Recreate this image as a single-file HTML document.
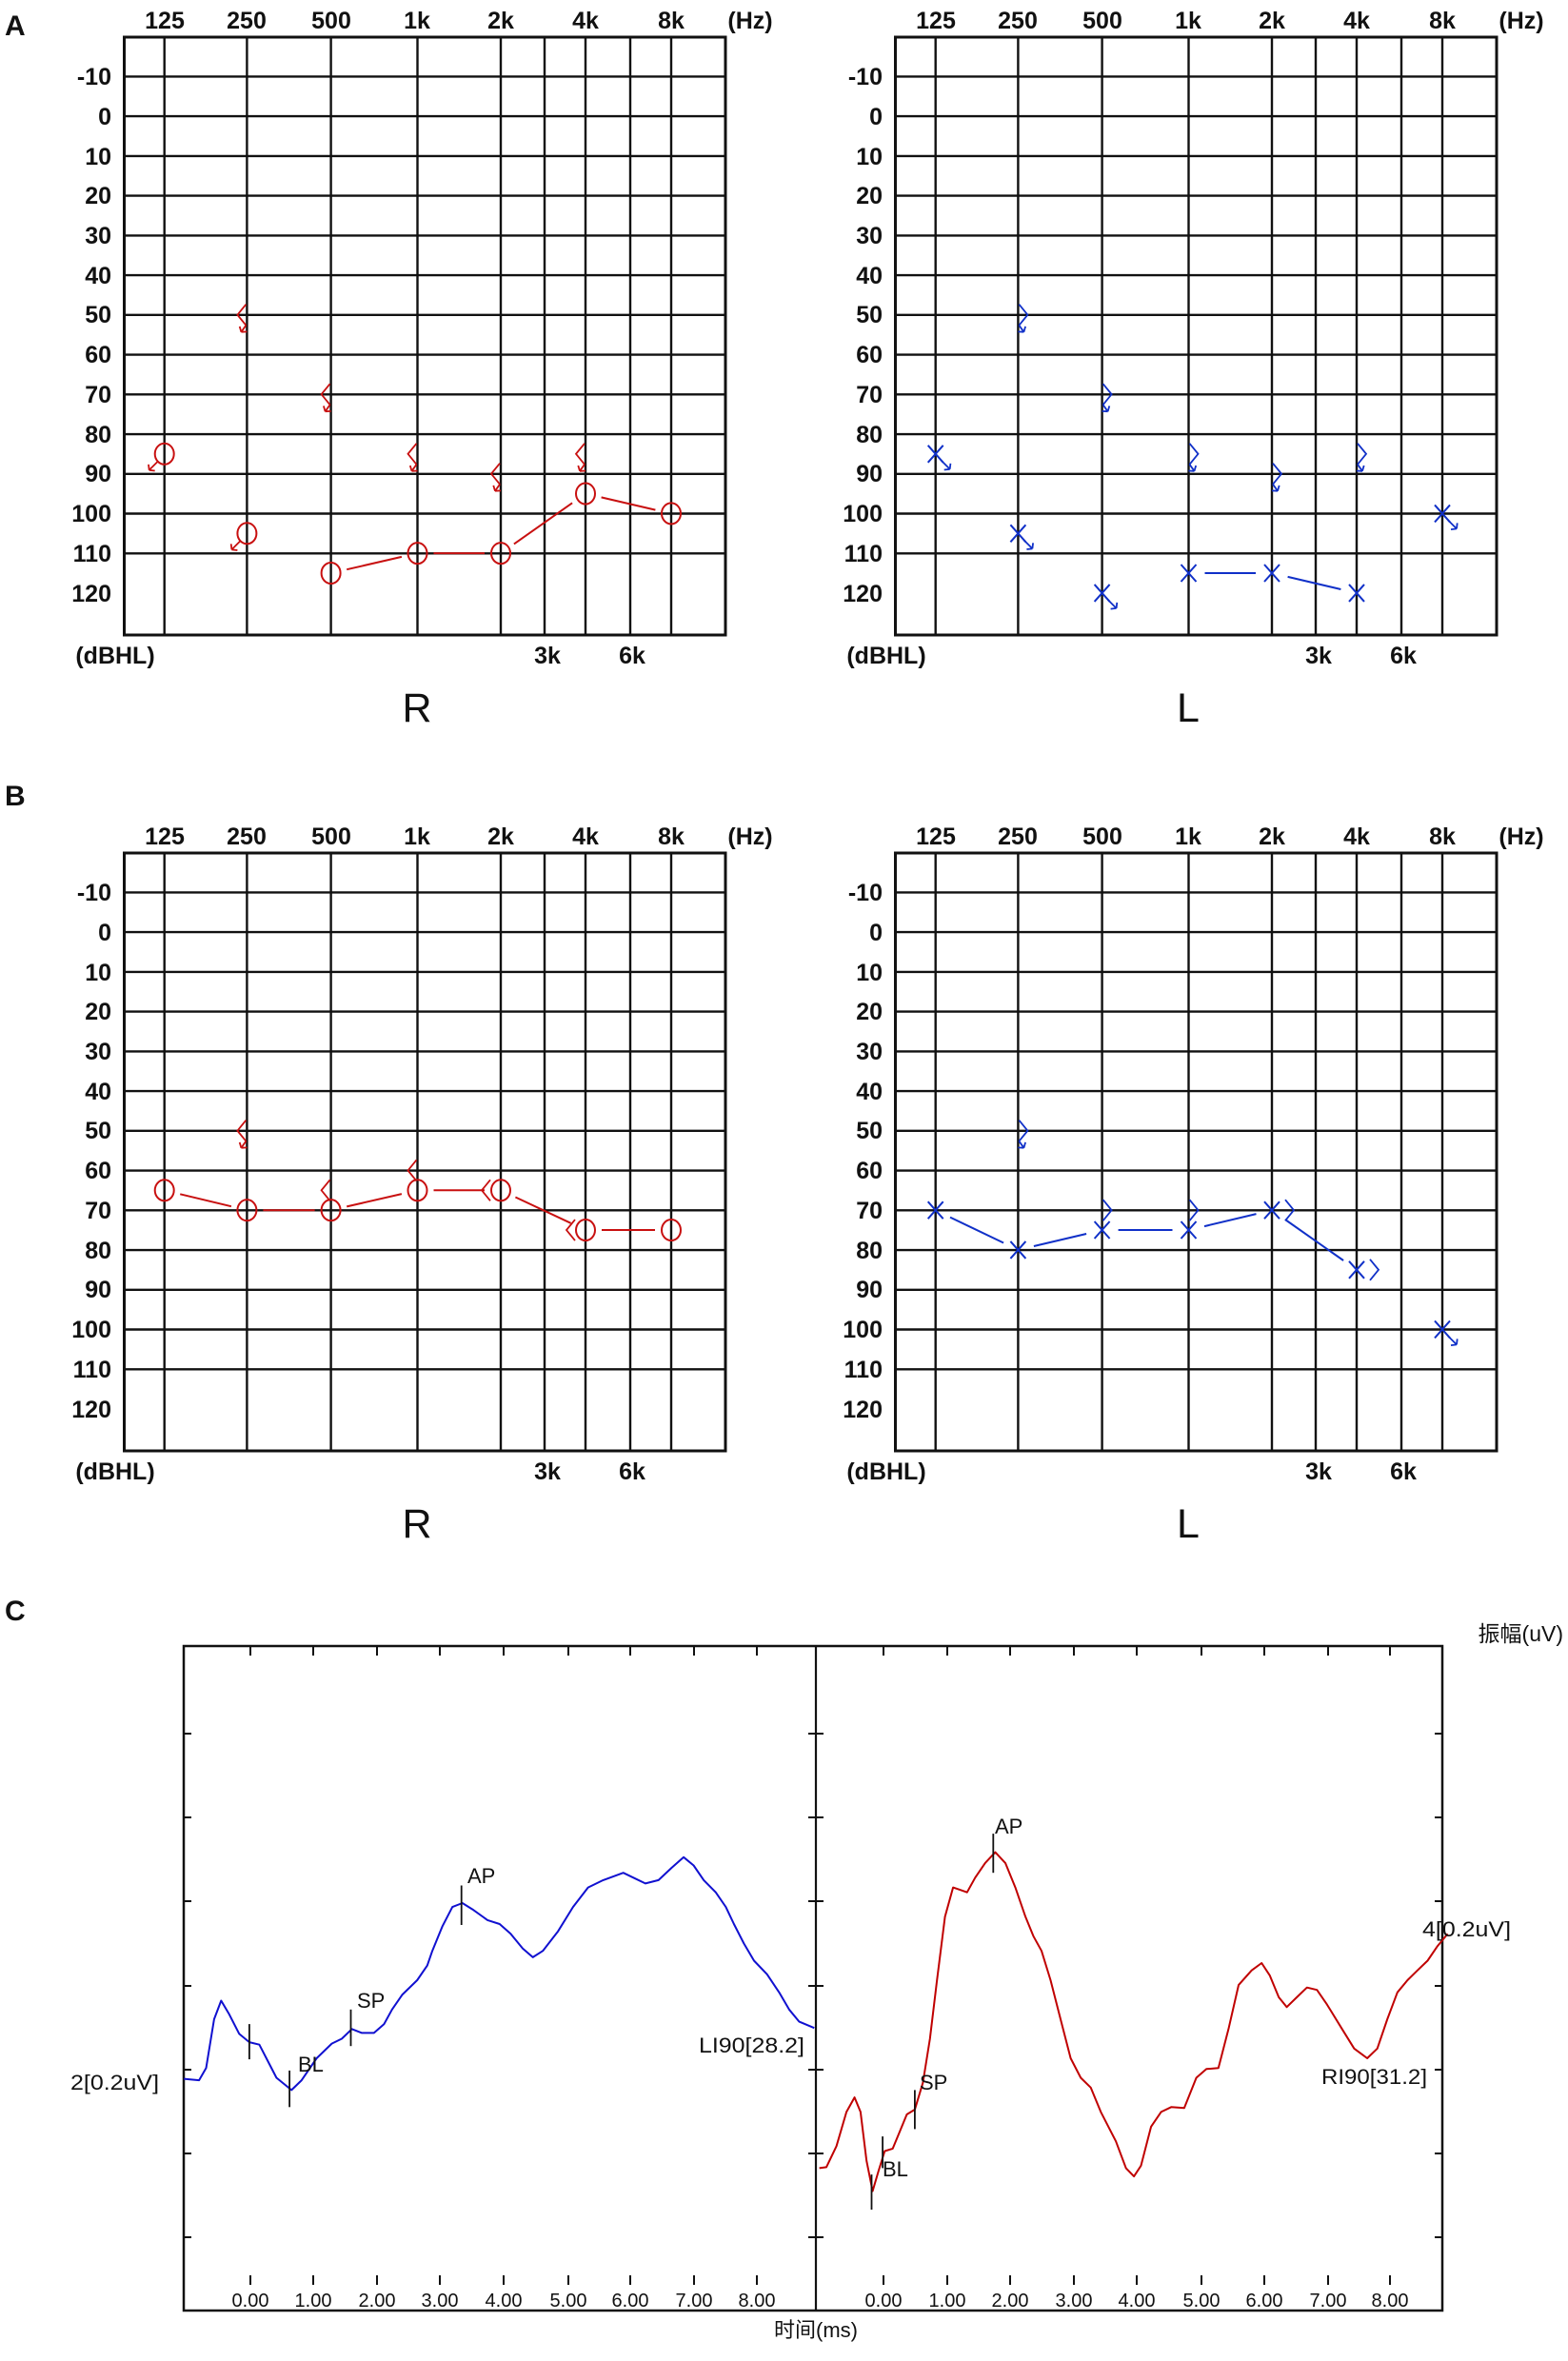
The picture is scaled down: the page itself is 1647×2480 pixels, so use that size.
<!DOCTYPE html>
<html><head><meta charset="utf-8"><style>
html,body{margin:0;padding:0;background:#fff;}
svg{display:block;}
.f{font-family:"Liberation Sans","Noto Sans CJK SC",sans-serif;font-weight:bold;font-size:25px;fill:#111;}
.n{font-family:"Liberation Sans Narrow","Liberation Sans","Noto Sans CJK SC",sans-serif;font-size:22px;fill:#111;}
</style></head><body>
<svg id="s" width="1647" height="2480" viewBox="0 0 1647 2480" xmlns="http://www.w3.org/2000/svg">
<rect width="1647" height="2480" fill="#fff"/>
<g id="dyn"></g>
<!-- panel labels -->
<text class="f" x="5" y="37" style="font-size:30px">A</text>
<text class="f" x="5" y="846" style="font-size:30px">B</text>
<text class="f" x="5" y="1702" style="font-size:30px">C</text>

<!-- A-R text -->
<g class="f" text-anchor="middle">
<text x="173" y="30">125</text><text x="259" y="30">250</text><text x="348" y="30">500</text><text x="438" y="30">1k</text><text x="526" y="30">2k</text><text x="615" y="30">4k</text><text x="705" y="30">8k</text>
<text x="788" y="30">(Hz)</text>
<text x="575" y="697">3k</text><text x="664" y="697">6k</text>
<text x="121" y="697">(dBHL)</text>
</g>
<g class="f" text-anchor="end">
<text x="117" y="89">-10</text><text x="117" y="131">0</text><text x="117" y="173">10</text><text x="117" y="214">20</text><text x="117" y="256">30</text><text x="117" y="298">40</text><text x="117" y="339">50</text><text x="117" y="381">60</text><text x="117" y="423">70</text><text x="117" y="465">80</text><text x="117" y="506">90</text><text x="117" y="548">100</text><text x="117" y="590">110</text><text x="117" y="632">120</text>
</g>
<text x="438" y="758" text-anchor="middle" style="font-family:'Liberation Sans',sans-serif;font-size:43px;fill:#111">R</text>

<!-- A-L text -->
<g transform="translate(810,0)">
<g class="f" text-anchor="middle">
<text x="173" y="30">125</text><text x="259" y="30">250</text><text x="348" y="30">500</text><text x="438" y="30">1k</text><text x="526" y="30">2k</text><text x="615" y="30">4k</text><text x="705" y="30">8k</text>
<text x="788" y="30">(Hz)</text>
<text x="575" y="697">3k</text><text x="664" y="697">6k</text>
<text x="121" y="697">(dBHL)</text>
</g>
<g class="f" text-anchor="end">
<text x="117" y="89">-10</text><text x="117" y="131">0</text><text x="117" y="173">10</text><text x="117" y="214">20</text><text x="117" y="256">30</text><text x="117" y="298">40</text><text x="117" y="339">50</text><text x="117" y="381">60</text><text x="117" y="423">70</text><text x="117" y="465">80</text><text x="117" y="506">90</text><text x="117" y="548">100</text><text x="117" y="590">110</text><text x="117" y="632">120</text>
</g>
<text x="438" y="758" text-anchor="middle" style="font-family:'Liberation Sans',sans-serif;font-size:43px;fill:#111">L</text>
</g>

<!-- B-R text -->
<g transform="translate(0,857)">
<g class="f" text-anchor="middle">
<text x="173" y="30">125</text><text x="259" y="30">250</text><text x="348" y="30">500</text><text x="438" y="30">1k</text><text x="526" y="30">2k</text><text x="615" y="30">4k</text><text x="705" y="30">8k</text>
<text x="788" y="30">(Hz)</text>
<text x="575" y="697">3k</text><text x="664" y="697">6k</text>
<text x="121" y="697">(dBHL)</text>
</g>
<g class="f" text-anchor="end">
<text x="117" y="89">-10</text><text x="117" y="131">0</text><text x="117" y="173">10</text><text x="117" y="214">20</text><text x="117" y="256">30</text><text x="117" y="298">40</text><text x="117" y="339">50</text><text x="117" y="381">60</text><text x="117" y="423">70</text><text x="117" y="465">80</text><text x="117" y="506">90</text><text x="117" y="548">100</text><text x="117" y="590">110</text><text x="117" y="632">120</text>
</g>
<text x="438" y="758" text-anchor="middle" style="font-family:'Liberation Sans',sans-serif;font-size:43px;fill:#111">R</text>
</g>

<!-- B-L text -->
<g transform="translate(810,857)">
<g class="f" text-anchor="middle">
<text x="173" y="30">125</text><text x="259" y="30">250</text><text x="348" y="30">500</text><text x="438" y="30">1k</text><text x="526" y="30">2k</text><text x="615" y="30">4k</text><text x="705" y="30">8k</text>
<text x="788" y="30">(Hz)</text>
<text x="575" y="697">3k</text><text x="664" y="697">6k</text>
<text x="121" y="697">(dBHL)</text>
</g>
<g class="f" text-anchor="end">
<text x="117" y="89">-10</text><text x="117" y="131">0</text><text x="117" y="173">10</text><text x="117" y="214">20</text><text x="117" y="256">30</text><text x="117" y="298">40</text><text x="117" y="339">50</text><text x="117" y="381">60</text><text x="117" y="423">70</text><text x="117" y="465">80</text><text x="117" y="506">90</text><text x="117" y="548">100</text><text x="117" y="590">110</text><text x="117" y="632">120</text>
</g>
<text x="438" y="758" text-anchor="middle" style="font-family:'Liberation Sans',sans-serif;font-size:43px;fill:#111">L</text>
</g>

<!-- C text -->
<g class="n">
<text x="1642" y="1724" text-anchor="end" style="font-size:23px">振幅(uV)</text>
<text x="857" y="2455" text-anchor="middle" style="font-size:22px">时间(ms)</text>
<text x="74" y="2195" textLength="93" lengthAdjust="spacingAndGlyphs">2[0.2uV]</text>
<text x="734" y="2156" textLength="111" lengthAdjust="spacingAndGlyphs">LI90[28.2]</text>
<text x="313" y="2176">BL</text>
<text x="375" y="2109">SP</text>
<text x="491" y="1978">AP</text>
<text x="927" y="2286">BL</text>
<text x="966" y="2195">SP</text>
<text x="1045" y="1926">AP</text>
<text x="1388" y="2189" textLength="111" lengthAdjust="spacingAndGlyphs">RI90[31.2]</text>
<text x="1494" y="2034" textLength="93" lengthAdjust="spacingAndGlyphs">4[0.2uV]</text>
</g>
<g class="n" text-anchor="middle" style="font-size:20px">
<text x="263" y="2423">0.00</text><text x="329" y="2423">1.00</text><text x="396" y="2423">2.00</text><text x="462" y="2423">3.00</text><text x="529" y="2423">4.00</text><text x="597" y="2423">5.00</text><text x="662" y="2423">6.00</text><text x="729" y="2423">7.00</text><text x="795" y="2423">8.00</text>
<text x="928" y="2423">0.00</text><text x="995" y="2423">1.00</text><text x="1061" y="2423">2.00</text><text x="1128" y="2423">3.00</text><text x="1194" y="2423">4.00</text><text x="1262" y="2423">5.00</text><text x="1328" y="2423">6.00</text><text x="1395" y="2423">7.00</text><text x="1460" y="2423">8.00</text>
</g>
</svg>
<script>
(function(){
var NS="http://www.w3.org/2000/svg",dyn=document.getElementById("dyn"),h="";
function L(x1,y1,x2,y2,c,w){h+='<line x1="'+x1.toFixed(1)+'" y1="'+y1.toFixed(1)+'" x2="'+x2.toFixed(1)+'" y2="'+y2.toFixed(1)+'" stroke="'+c+'" stroke-width="'+w+'"/>';}
var VX=[172.7,259.4,347.6,438.5,526,572,615,662,705];
var F={125:172.7,250:259.4,500:347.6,1000:438.5,2000:526,4000:615,8000:705};
function Y(v){return 122+4.174*v;}
var RED="#c81010",BLUE="#1030c8";
function grid(ox,oy){
 for(var k=0;k<13;k++){var y=80.4+41.74*k;L(ox+130.5,oy+y,ox+762,oy+y,"#111",2.4);}
 for(var i=0;i<VX.length;i++)L(ox+VX[i],oy+39,ox+VX[i],oy+667,"#111",2.4);
 h+='<rect x="'+(ox+130.5)+'" y="'+(oy+39)+'" width="631.5" height="628" fill="none" stroke="#111" stroke-width="3"/>';
}
function arrow(x1,y1,x2,y2,c){L(x1,y1,x2,y2,c,1.8);var a=Math.atan2(y2-y1,x2-x1),s=6;
 L(x2,y2,x2-s*Math.cos(a-0.9),y2-s*Math.sin(a-0.9),c,1.8);L(x2,y2,x2-s*Math.cos(a+0.9),y2-s*Math.sin(a+0.9),c,1.8);}
function circ(ox,oy,f,v,ar){var x=ox+F[f],y=oy+Y(v);h+='<ellipse cx="'+x+'" cy="'+y+'" rx="10" ry="11" fill="none" stroke="'+RED+'" stroke-width="2"/>';
 if(ar)arrow(x-7,y+8,x-16,y+17,RED);}
function cross(ox,oy,f,v,ar){var x=ox+F[f],y=oy+Y(v);L(x-8,y-9,x+8,y+9,BLUE,2);L(x+8,y-9,x-8,y+9,BLUE,2);
 if(ar)arrow(x+6,y+7,x+15,y+16,BLUE);}
function boneL(ox,oy,f,v,ar,sh){sh=sh||0;var x=ox+F[f]-sh,y=oy+Y(v);h+='<polyline points="'+(x-1)+','+(y-11)+' '+(x-10)+','+y+' '+(x-1)+','+(y+11)+'" fill="none" stroke="'+RED+'" stroke-width="1.8"/>';
 if(ar)arrow(x-1,y+11,x-6,y+18,RED);}
function boneR(ox,oy,f,v,ar,sh){sh=sh||0;var x=ox+F[f]+sh,y=oy+Y(v);h+='<polyline points="'+(x+1)+','+(y-11)+' '+(x+10)+','+y+' '+(x+1)+','+(y+11)+'" fill="none" stroke="'+BLUE+'" stroke-width="1.8"/>';
 if(ar)arrow(x+1,y+11,x+6,y+18,BLUE);}
function conn(ox,oy,pts,c){for(var i=0;i<pts.length-1;i++){var x1=ox+F[pts[i][0]],y1=oy+Y(pts[i][1]),x2=ox+F[pts[i+1][0]],y2=oy+Y(pts[i+1][1]);
 var dx=x2-x1,dy=y2-y1,d=Math.sqrt(dx*dx+dy*dy),g=17;L(x1+dx*g/d,y1+dy*g/d,x2-dx*g/d,y2-dy*g/d,c,2);}}
grid(0,0);grid(810,0);grid(0,857);grid(810,857);
// A-R
conn(0,0,[[500,115],[1000,110],[2000,110],[4000,95],[8000,100]],RED);
circ(0,0,125,85,1);circ(0,0,250,105,1);circ(0,0,500,115);circ(0,0,1000,110);circ(0,0,2000,110);circ(0,0,4000,95);circ(0,0,8000,100);
boneL(0,0,250,50,1);boneL(0,0,500,70,1);boneL(0,0,1000,85,1);boneL(0,0,2000,90,1);boneL(0,0,4000,85,1);
// A-L
conn(810,0,[[1000,115],[2000,115],[4000,120]],BLUE);
cross(810,0,125,85,1);cross(810,0,250,105,1);cross(810,0,500,120,1);cross(810,0,1000,115);cross(810,0,2000,115);cross(810,0,4000,120);cross(810,0,8000,100,1);
boneR(810,0,250,50,1);boneR(810,0,500,70,1);boneR(810,0,1000,85,1);boneR(810,0,2000,90,1);boneR(810,0,4000,85,1);
// B-R
var br=[[125,65],[250,70],[500,70],[1000,65],[2000,65],[4000,75],[8000,75]];
conn(0,857,br,RED);br.forEach(function(p){circ(0,857,p[0],p[1]);});
boneL(0,857,250,50,1);boneL(0,857,500,65);boneL(0,857,1000,60);boneL(0,857,2000,65,0,10);boneL(0,857,4000,75,0,10);
// B-L
var bl=[[125,70],[250,80],[500,75],[1000,75],[2000,70],[4000,85]];
conn(810,857,bl,BLUE);bl.forEach(function(p){cross(810,857,p[0],p[1]);});cross(810,857,8000,100,1);
boneR(810,857,250,50,1);boneR(810,857,500,70);boneR(810,857,1000,70);boneR(810,857,2000,70,0,13);boneR(810,857,4000,85,0,13);
// C box
h+='<rect x="193" y="1729" width="1322" height="698" fill="none" stroke="#111" stroke-width="2.5"/>';
L(857,1729,857,2427,"#111",2.2);
var yt=[1821,1909,1997,2086,2174,2262,2350];
yt.forEach(function(y){L(193,y,201,y,"#111",2);L(849,y,865,y,"#111",2);L(1507,y,1515,y,"#111",2);});
var xl=[263,329,396,462,529,597,662,729,795,928,995,1061,1128,1194,1262,1328,1395,1460];
xl.forEach(function(x){L(x,1729,x,1739,"#111",2);L(x,2390,x,2400,"#111",2);});
function curve(pts,c){var s="";for(var i=0;i<pts.length;i+=2){s+=(pts[i]/0.947).toFixed(1)+","+(1680+pts[i+1]*0.5128).toFixed(1)+" ";}
 h+='<polyline points="'+s+'" fill="none" stroke="'+c+'" stroke-width="2" stroke-linejoin="round"/>';}
curve([183,982,198,985,205,960,213,860,220,822,228,850,238,890,248,907,258,912,265,940,275,980,290,1005,300,985,315,940,330,910,340,900,350,880,360,888,372,888,382,870,390,840,400,810,415,780,425,750,430,720,440,670,450,630,460,622,470,635,485,657,497,665,508,685,520,715,530,733,540,720,555,680,570,630,585,590,600,575,620,560,630,570,642,582,655,575,668,550,680,528,690,545,700,575,712,600,722,630,730,665,740,705,750,740,763,768,775,805,785,840,795,865,810,878],"#1010d0");
curve([815,1165,822,1163,832,1120,842,1050,850,1020,856,1050,862,1150,868,1212,874,1170,880,1130,888,1125,895,1090,902,1055,910,1045,918,990,925,900,932,780,940,650,948,590,955,595,962,600,970,570,980,540,990,518,1000,540,1010,590,1020,650,1028,690,1036,720,1045,780,1055,860,1065,940,1075,980,1085,1000,1095,1050,1110,1110,1120,1165,1128,1182,1135,1160,1145,1080,1155,1050,1165,1040,1178,1042,1190,980,1200,962,1212,960,1222,880,1232,790,1245,760,1255,745,1263,770,1272,815,1280,835,1290,815,1300,795,1310,800,1320,830,1335,880,1347,920,1360,940,1370,920,1380,860,1390,805,1400,780,1410,760,1420,740,1430,710,1440,685],"#c00000");
function mk(zx,z1,z2){var x=zx/0.947;L(x,1680+z1*0.5128,x,1680+z2*0.5128,"#111",1.8);}
mk(248,870,942);mk(288,965,1040);mk(349,840,915);mk(459,586,667);
mk(867,1178,1250);mk(878,1100,1165);mk(910,1005,1085);mk(988,480,560);
dyn.innerHTML=h;
})();
</script>
</body></html>
